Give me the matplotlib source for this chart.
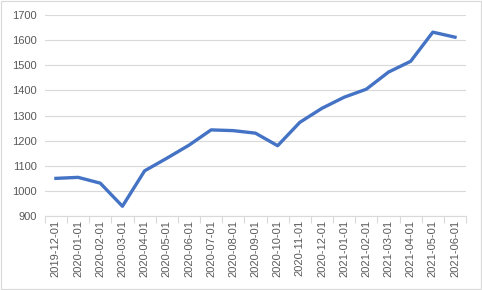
import matplotlib.pyplot as plt
import numpy as np

months = ["2019-12-01", "2020-01-01", "2020-02-01", "2020-03-01", "2020-04-01",
          "2020-05-01", "2020-06-01", "2020-07-01", "2020-08-01", "2020-09-01",
          "2020-10-01", "2020-11-01", "2020-12-01", "2021-01-01", "2021-02-01",
          "2021-03-01", "2021-04-01", "2021-05-01", "2021-06-01"]
values = [1050, 1054, 1031, 939, 1080, 1130, 1182, 1243, 1240, 1230,
          1180, 1273, 1329, 1373, 1405, 1473, 1516, 1632, 1612]

plt.rcParams['font.family'] = ['Liberation Sans', 'DejaVu Sans']

fig = plt.figure(figsize=(4.82, 2.90), dpi=100)
ax = fig.add_axes([0.093, 0.255, 0.874, 0.693])

x = np.arange(len(months))
ax.plot(x, values, color='#4472C4', linewidth=2.4, solid_joinstyle='round', zorder=3)

ax.set_xlim(-0.5, len(months) - 0.5)
ax.set_ylim(900, 1700)
ax.set_yticks(range(900, 1701, 100))
ax.set_xticks(x)
ax.set_xticklabels(months, rotation=90)
ax.set_xticks(np.arange(-0.5, len(months)), minor=True)
ax.tick_params(axis='x', which='major', length=0, labelsize=8, colors='#595959', pad=3)
ax.tick_params(axis='x', which='minor', length=5, color='#D9D9D9', width=0.8)
ax.tick_params(axis='y', length=0, labelsize=8, colors='#595959', pad=6)

ax.grid(axis='y', color='#D9D9D9', linewidth=0.8)
ax.set_axisbelow(True)
for s in ['top', 'right', 'left']:
    ax.spines[s].set_visible(False)
ax.spines['bottom'].set_color('#D9D9D9')
ax.spines['bottom'].set_linewidth(0.8)

fig.patches.append(plt.Rectangle((0.002, 0.003), 0.995, 0.994, transform=fig.transFigure,
                                 fill=False, edgecolor='#D9D9D9', linewidth=0.8))

fig.savefig('out.png', dpi=100)
